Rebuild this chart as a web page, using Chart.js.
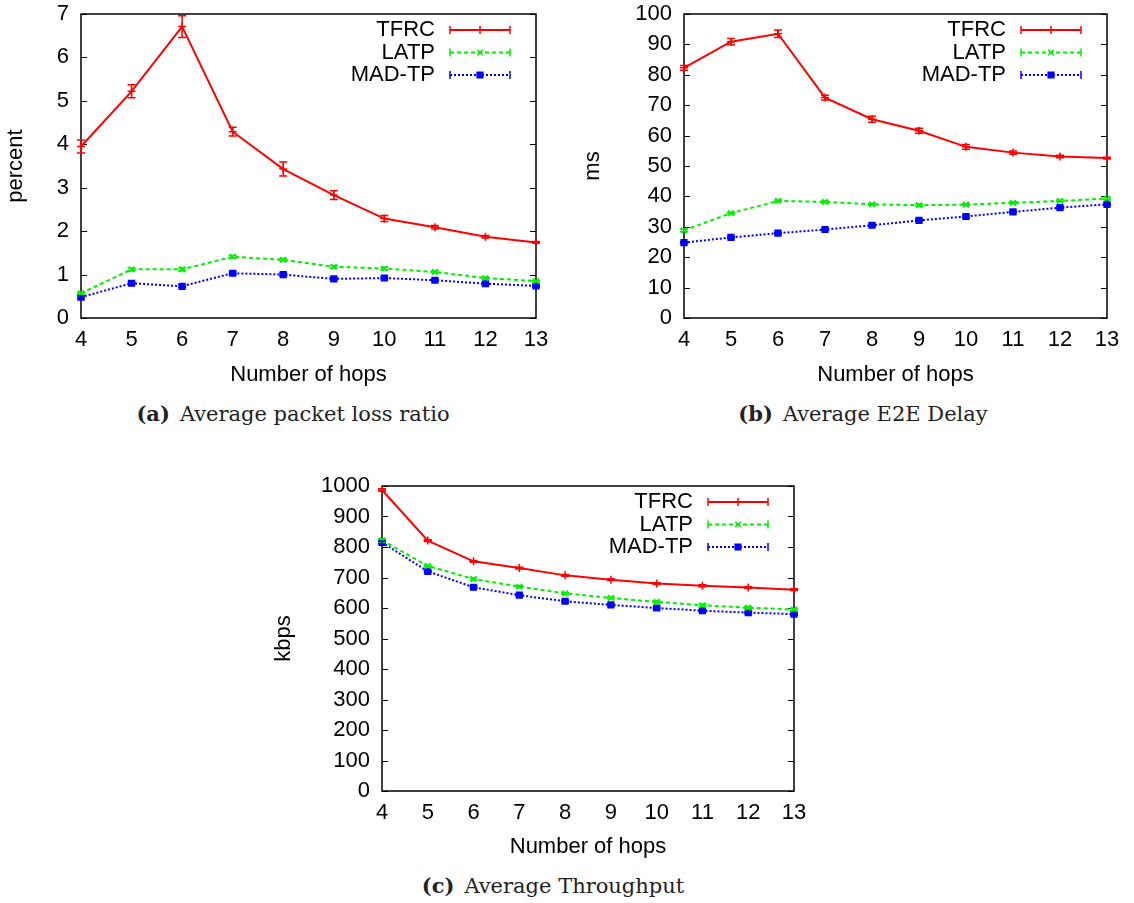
<!DOCTYPE html>
<html>
<head>
<meta charset="utf-8">
<script src="https://cdn.jsdelivr.net/npm/chart.js@4.4.0/dist/chart.umd.min.js"></script>
<style>
  body { margin: 0; background: #fff; width: 1134px; height: 903px; position: relative; overflow: hidden; }
  canvas { position: absolute; }
  .cap { position: absolute; font-family: "DejaVu Serif", serif; font-size: 21px; color: #222;
         white-space: nowrap; transform: translate(-50%, -50%); }
  .cap b { margin-right: 10px; }
</style>
</head>
<body>
<canvas id="lossChart" width="560" height="392" style="left:0px;top:0px;width:560px;height:392px"></canvas>
<canvas id="delayChart" width="564" height="392" style="left:570px;top:0px;width:564px;height:392px"></canvas>
<canvas id="thrChart" width="570" height="394" style="left:250px;top:470px;width:570px;height:394px"></canvas>
<div class="cap" style="left:293px;top:413px"><b>(a)</b>Average packet loss ratio</div>
<div class="cap" style="left:863px;top:413px"><b>(b)</b>Average E2E Delay</div>
<div class="cap" style="left:553px;top:885px"><b>(c)</b>Average Throughput</div>
<script>
// number of hops on the x axis
const hops = [4, 5, 6, 7, 8, 9, 10, 11, 12, 13];
const seriesNames = ["TFRC", "LATP", "MAD-TP"];

// (a) packet loss, percent
const lossTFRC = [3.95, 5.22, 6.71, 4.29, 3.43, 2.83, 2.29, 2.09, 1.87, 1.74];
const lossTFRCErr = [0.15, 0.15, 0.25, 0.1, 0.16, 0.1, 0.07, 0.04, 0.03, 0.02];
const lossLATP = [0.57, 1.12, 1.12, 1.41, 1.34, 1.18, 1.14, 1.06, 0.92, 0.85];
const lossLATPErr = [0.03, 0.03, 0.03, 0.03, 0.03, 0.03, 0.03, 0.02, 0.02, 0.02];
const lossMADTP = [0.48, 0.8, 0.73, 1.03, 1.0, 0.9, 0.92, 0.87, 0.79, 0.74];
const lossMADTPErr = [0.03, 0.03, 0.03, 0.03, 0.03, 0.03, 0.02, 0.02, 0.02, 0.02];

// (b) end to end delay, ms
const delayTFRC = [82.3, 90.9, 93.5, 72.5, 65.4, 61.6, 56.3, 54.4, 53.1, 52.6];
const delayTFRCErr = [0.8, 1.0, 1.2, 0.8, 1.0, 0.8, 0.8, 0.5, 0.4, 0.3];
const delayLATP = [28.8, 34.5, 38.5, 38.2, 37.4, 37.1, 37.3, 37.9, 38.5, 39.3];
const delayLATPErr = [0.4, 0.3, 0.3, 0.3, 0.3, 0.3, 0.3, 0.3, 0.3, 0.3];
const delayMADTP = [24.8, 26.5, 27.9, 29.1, 30.5, 32.1, 33.4, 34.9, 36.3, 37.4];
const delayMADTPErr = [0.3, 0.3, 0.3, 0.3, 0.3, 0.3, 0.3, 0.3, 0.3, 0.3];

// (c) throughput, kbps
const thrTFRC = [987, 821, 753, 731, 707, 693, 680, 673, 667, 660];
const thrTFRCErr = [4, 3, 3, 3, 3, 3, 3, 3, 3, 3];
const thrLATP = [822, 738, 695, 670, 648, 633, 620, 609, 601, 595];
const thrLATPErr = [4, 3, 3, 3, 3, 3, 3, 3, 3, 3];
const thrMADTP = [815, 720, 668, 642, 622, 610, 600, 591, 585, 580];
const thrMADTPErr = [4, 3, 3, 3, 3, 3, 3, 3, 3, 3];

const FONT = '"Liberation Sans", Arial, sans-serif';

// gnuplot style frame with inward y ticks on both sides
const framePlugin = {
  id: 'frame',
  beforeDatasetsDraw(chart) {
    const ctx = chart.ctx, a = chart.chartArea, y = chart.scales.y;
    ctx.save();
    ctx.strokeStyle = '#000';
    ctx.lineWidth = 1;
    y.ticks.forEach(function (t) {
      const p = Math.round(y.getPixelForValue(t.value)) + 0.5;
      ctx.beginPath();
      ctx.moveTo(a.left, p); ctx.lineTo(a.left + 6, p);
      ctx.moveTo(a.right - 6, p); ctx.lineTo(a.right, p);
      ctx.stroke();
    });
    ctx.lineWidth = 1.5;
    ctx.strokeRect(a.left, a.top, a.right - a.left, a.bottom - a.top);
    ctx.restore();
  }
};

// error bars with small caps
const errorPlugin = {
  id: 'errbars',
  afterDatasetsDraw(chart) {
    const ctx = chart.ctx, y = chart.scales.y;
    chart.data.datasets.forEach(function (ds, i) {
      if (!ds.errors) return;
      const meta = chart.getDatasetMeta(i);
      ctx.save();
      ctx.strokeStyle = ds.borderColor;
      ctx.lineWidth = 1.5;
      ctx.setLineDash([]);
      meta.data.forEach(function (pt, j) {
        const top = y.getPixelForValue(ds.data[j] + ds.errors[j]);
        const bot = y.getPixelForValue(ds.data[j] - ds.errors[j]);
        ctx.beginPath();
        ctx.moveTo(pt.x, top); ctx.lineTo(pt.x, bot);
        ctx.moveTo(pt.x - 4, top); ctx.lineTo(pt.x + 4, top);
        ctx.moveTo(pt.x - 4, bot); ctx.lineTo(pt.x + 4, bot);
        ctx.stroke();
      });
      ctx.restore();
    });
  }
};

// key in the top right corner, text right aligned before the sample
const keyPlugin = {
  id: 'key',
  afterDraw(chart) {
    const ctx = chart.ctx, a = chart.chartArea;
    const x1 = a.right - 86, x2 = a.right - 26;
    chart.data.datasets.forEach(function (ds, i) {
      const yy = a.top + 16 + i * 22.5;
      ctx.save();
      ctx.font = '22px ' + FONT;
      ctx.fillStyle = '#000';
      ctx.textAlign = 'right';
      ctx.textBaseline = 'middle';
      ctx.fillText(ds.label, x1 - 15, yy);
      ctx.strokeStyle = ds.borderColor;
      ctx.fillStyle = ds.borderColor;
      ctx.lineWidth = ds.borderWidth;
      ctx.setLineDash(ds.borderDash);
      ctx.beginPath(); ctx.moveTo(x1, yy); ctx.lineTo(x2, yy); ctx.stroke();
      ctx.setLineDash([]);
      ctx.lineWidth = 1.5;
      ctx.beginPath();
      ctx.moveTo(x1, yy - 4); ctx.lineTo(x1, yy + 4);
      ctx.moveTo(x2, yy - 4); ctx.lineTo(x2, yy + 4);
      ctx.stroke();
      Chart.helpers.drawPoint(ctx, {pointStyle: ds.pointStyle, radius: ds.pointRadius, borderWidth: 1.5, rotation: 0}, (x1 + x2) / 2, yy);
      ctx.restore();
    });
  }
};

function makeSeries(values, errors, k) {
  const colors = ['#ff0000', '#00ee00', '#0000ff'];
  const dashes = [[], [4, 3], [2, 2]];
  const styles = ['cross', 'crossRot', 'rect'];
  return {
    label: seriesNames[k],
    data: values,
    errors: errors,
    borderColor: colors[k],
    backgroundColor: colors[k],
    pointBackgroundColor: colors[k],
    pointBorderColor: colors[k],
    borderWidth: 2,
    borderDash: dashes[k],
    pointStyle: styles[k],
    pointRadius: 4,
    pointBorderWidth: 1.5,
    tension: 0,
    fill: false,
    clip: false
  };
}

function drawChart(id, series, yMax, yStep, yTitle, box) {
  const ctx = document.getElementById(id).getContext('2d');
  return new Chart(ctx, {
    type: 'line',
    data: {labels: hops, datasets: series},
    plugins: [framePlugin, errorPlugin, keyPlugin],
    options: {
      responsive: false,
      animation: false,
      events: [],
      layout: {padding: {left: 0, top: box.top, right: box.right, bottom: 0}},
      plugins: {legend: {display: false}, tooltip: {enabled: false}},
      scales: {
        x: {
          type: 'category',
          offset: false,
          grid: {display: false, drawTicks: false},
          border: {display: false},
          ticks: {color: '#000', font: {family: FONT, size: 22}, padding: 9, maxRotation: 0, autoSkip: false},
          title: {display: true, text: 'Number of hops', color: '#000', font: {family: FONT, size: 22}, padding: {top: 0, bottom: 4}},
          afterFit: function (s) { s.height = box.xh; s.paddingLeft = 0; s.paddingRight = 0; }
        },
        y: {
          type: 'linear',
          min: 0,
          max: yMax,
          grid: {display: false, drawTicks: false},
          border: {display: false},
          ticks: {stepSize: yStep, color: '#000', font: {family: FONT, size: 22}, padding: 12,
                  callback: function (v) { return String(v); }},
          title: {display: true, text: yTitle, color: '#000', font: {family: FONT, size: 22}, padding: {top: box.tp, bottom: 0}},
          afterFit: function (s) { s.width = box.yw; s.paddingTop = 0; s.paddingBottom = 0; }
        }
      }
    }
  });
}

drawChart('lossChart', [
  makeSeries(lossTFRC, lossTFRCErr, 0),
  makeSeries(lossLATP, lossLATPErr, 1),
  makeSeries(lossMADTP, lossMADTPErr, 2)
], 7, 1, 'percent', {top: 14, right: 24, yw: 81, xh: 74, tp: 3});

drawChart('delayChart', [
  makeSeries(delayTFRC, delayTFRCErr, 0),
  makeSeries(delayLATP, delayLATPErr, 1),
  makeSeries(delayMADTP, delayMADTPErr, 2)
], 100, 10, 'ms', {top: 14, right: 27, yw: 114, xh: 74, tp: 10});

drawChart('thrChart', [
  makeSeries(thrTFRC, thrTFRCErr, 0),
  makeSeries(thrLATP, thrLATPErr, 1),
  makeSeries(thrMADTP, thrMADTPErr, 2)
], 1000, 100, 'kbps', {top: 16, right: 26, yw: 132, xh: 73, tp: 21});
</script>
</body>
</html>
